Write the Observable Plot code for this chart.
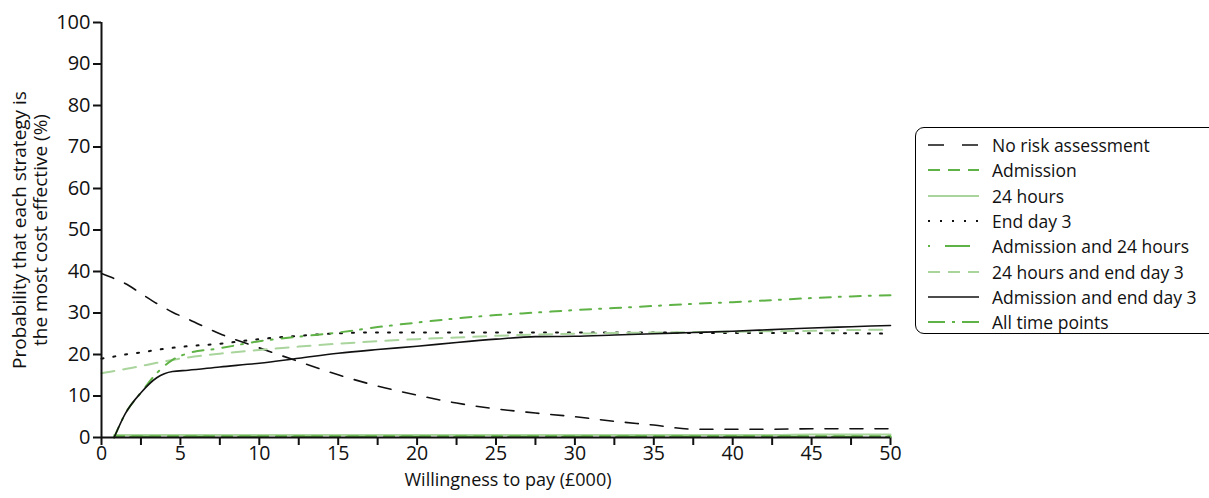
<!DOCTYPE html>
<html>
<head>
<meta charset="utf-8">
<script src="https://cdn.jsdelivr.net/npm/d3@7"></script>
<script src="https://cdn.jsdelivr.net/npm/@observablehq/plot@0.6"></script>
<style>
  html, body { margin: 0; padding: 0; background: #fff; }
  #wrap { position: relative; width: 1209px; height: 498px; font-family: "Open Sans", sans-serif; overflow: hidden; }
  #legend { position: absolute; left: 915px; top: 127px; width: 340px; height: 207px;
            border: 1.5px solid #000; border-radius: 9px; box-sizing: border-box; }
  .row { position: absolute; left: 0; height: 24px; display: flex; align-items: center; }
  .row span { font-size: 17.5px; color: #111; margin-left: 12px; white-space: nowrap; }
</style>
</head>
<body>
<div id="wrap"><div id="chart"></div><div id="legend"></div></div>
<script>
// Willingness to pay (£000) grid
const wtp = [0, 0.8, 1.5, 2.5, 3.5, 4.5, 5.5, 7.5, 10, 12.5, 15, 17.5, 20, 22.5, 25, 27.5, 30, 32.5, 35, 37.5, 40, 42.5, 45, 47.5, 50];

const noRisk      = [39.5, 38.3, 37.1, 34.7, 32.3, 30.2, 28.5, 25.0, 21.6, 18.3, 15.1, 12.4, 10.2, 8.3, 6.9, 5.9, 5.0, 3.9, 3.0, 2.0, 2.0, 2.0, 2.1, 2.1, 2.1];
const admission   = [null, 0.3, 0.3, 0.3, 0.3, 0.3, 0.3, 0.3, 0.3, 0.3, 0.3, 0.3, 0.3, 0.3, 0.3, 0.3, 0.3, 0.3, 0.3, 0.3, 0.3, 0.3, 0.3, 0.3, 0.3];
const hours24     = [null, 0.6, 0.6, 0.6, 0.6, 0.6, 0.6, 0.6, 0.6, 0.6, 0.6, 0.6, 0.6, 0.6, 0.6, 0.6, 0.6, 0.6, 0.6, 0.6, 0.6, 0.6, 0.7, 0.7, 0.7];
const endDay3     = [19.0, 19.5, 20.0, 20.5, 21.1, 21.6, 22.0, 22.6, 23.7, 24.5, 25.1, 25.3, 25.3, 25.3, 25.3, 25.3, 25.3, 25.3, 25.3, 25.2, 25.2, 25.2, 25.1, 25.1, 25.0];
const adm24       = [null, 0.2, 0.2, 0.2, 0.2, 0.2, 0.2, 0.2, 0.2, 0.2, 0.2, 0.2, 0.2, 0.2, 0.2, 0.2, 0.2, 0.2, 0.2, 0.2, 0.2, 0.2, 0.2, 0.2, 0.2];
const h24EndDay3  = [15.5, 16.0, 16.5, 17.2, 18.0, 18.7, 19.3, 20.2, 21.1, 21.9, 22.6, 23.2, 23.7, 24.1, 24.5, 24.8, 25.0, 25.2, 25.3, 25.4, 25.5, 25.6, 25.7, 25.9, 26.0];
const admEndDay3  = [null, 0, 5.7, 10.8, 14.4, 15.9, 16.2, 17.0, 17.9, 19.1, 20.3, 21.2, 22.0, 22.9, 23.7, 24.3, 24.4, 24.7, 25.0, 25.3, 25.6, 26.0, 26.4, 26.7, 27.0];
const allPoints   = [null, 0, 5.7, 10.8, 15.5, 18.7, 20.3, 21.5, 23.2, 24.3, 25.3, 26.6, 27.7, 28.7, 29.5, 30.1, 30.7, 31.2, 31.7, 32.2, 32.6, 33.1, 33.6, 34.0, 34.3];

const xTicks = d3.range(0, 50.01, 2.5);
const yTicks = d3.range(0, 100.01, 10);
const xLabel = "Willingness to pay (£000)";
const yLabel = "Probability that each strategy is\nthe most cost effective (%)";

const green = "#5fb246", lightGreen = "#a9d59c";
const series = [
  {name: "No risk assessment", values: noRisk, stroke: "#111", dash: "13,12", legendDash: "16,18", width: 1.6},
  {name: "Admission", values: admission, stroke: green, dash: "10,8", legendDash: "12,8", width: 2},
  {name: "24 hours", values: hours24, stroke: lightGreen, dash: null, legendDash: null, width: 2},
  {name: "End day 3", values: endDay3, stroke: "#111", dash: "2,10", legendDash: "2,10", width: 2},
  {name: "Admission and 24 hours", values: adm24, stroke: green, dash: "2,14,24,14", legendDash: "2,15,25,20", width: 2},
  {name: "24 hours and end day 3", values: h24EndDay3, stroke: lightGreen, dash: "13,9", legendDash: "12,8", width: 2},
  {name: "Admission and end day 3", values: admEndDay3, stroke: "#111", dash: null, legendDash: null, width: 1.6},
  {name: "All time points", values: allPoints, stroke: green, dash: "11,8,2,9", legendDash: "17,7,3,7", width: 2}
];

const rows = s => wtp.map((x, i) => ({x, y: s.values[i]})).filter(d => d.y !== null);
const drawOrder = [2, 1, 4, 0, 3, 5, 7, 6];

const plot = Plot.plot({
  width: 1209, height: 498,
  marginLeft: 101, marginRight: 319, marginTop: 22, marginBottom: 61,
  style: {fontFamily: "Open Sans, sans-serif", fontSize: "20px", color: "#111"},
  x: {domain: [0, 50]},
  y: {domain: [0, 100]},
  marks: [
    Plot.axisX({ticks: xTicks, tickSize: 8, tickPadding: 1, tickFormat: d => d % 5 === 0 ? d : "", label: null, strokeWidth: 2, fontSize: 19.5}),
    Plot.axisY({ticks: yTicks, tickSize: 8, tickPadding: 3, label: null, strokeWidth: 2, fontSize: 20}),
    ...drawOrder.map(i => {
      const s = series[i];
      return Plot.line(rows(s), {x: "x", y: "y", stroke: s.stroke, strokeWidth: s.width,
        strokeDasharray: s.dash || undefined, curve: "monotone-x"});
    }),
    Plot.ruleX([0], {strokeWidth: 2, stroke: "#111"}),
    Plot.ruleY([0], {strokeWidth: 2, stroke: "#111"}),
    Plot.text([xLabel], {frameAnchor: "bottom", dy: 48, dx: 12, fontSize: 18, fill: "#111"}),
    Plot.text([yLabel], {frameAnchor: "left", dx: -72, rotate: -90, textAnchor: "middle", lineHeight: 1.15, fontSize: 19, fill: "#111"})
  ]
});
document.getElementById("chart").appendChild(plot);

// Legend
const legend = document.getElementById("legend");
series.forEach((s, i) => {
  const row = document.createElement("div");
  row.className = "row";
  row.style.top = (5 + i * 25.3) + "px";
  const svg = d3.create("svg").attr("width", 64).attr("height", 24);
  svg.append("line").attr("x1", 12).attr("x2", 63).attr("y1", 12).attr("y2", 12)
    .attr("stroke", s.stroke).attr("stroke-width", s.width)
    .attr("stroke-dasharray", s.legendDash || null);
  row.appendChild(svg.node());
  const t = document.createElement("span");
  t.textContent = s.name;
  row.appendChild(t);
  legend.appendChild(row);
});
</script>
</body>
</html>
